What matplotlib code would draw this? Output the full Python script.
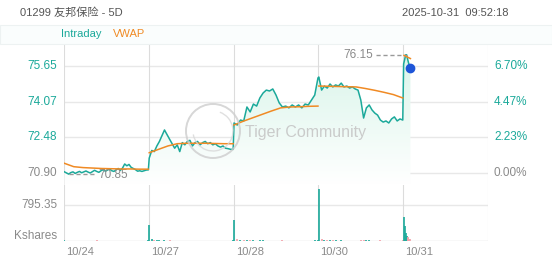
import numpy as np
import matplotlib
matplotlib.use('Agg')
import matplotlib.pyplot as plt
from matplotlib.patches import Rectangle, Ellipse, Arc
from matplotlib.colors import LinearSegmentedColormap

plt.rcParams['font.family'] = ['Liberation Sans', 'Noto Sans CJK SC', 'DejaVu Sans']

title = '01299 友邦保险 - 5D'
stamp = '2025-10-31  09:52:18'
days = ['10/24', '10/27', '10/28', '10/30', '10/31']
prev_close = 70.90
price_ticks = [75.65, 74.07, 72.48, 70.90]
vol_tick = 795.35

# intraday price per day
p1 = [70.95, 70.90, 70.85, 70.92, 70.95, 70.88, 70.93, 70.97, 70.91, 70.95,
      70.99, 70.94, 70.90, 70.96, 71.02, 70.97, 70.93, 71.00, 71.05, 70.98,
      71.03, 71.08, 71.00, 70.97, 71.04, 71.10, 71.02, 71.12, 71.30, 71.22,
      71.28, 71.15, 71.10, 71.05, 70.98, 71.00, 70.97, 71.00, 71.03, 71.04]
p2 = [71.56, 71.90, 71.85, 72.10, 72.30, 72.55, 72.81, 72.60, 72.40, 72.20,
      72.00, 72.15, 71.85, 72.25, 72.15, 72.30, 72.35, 72.10, 72.25, 72.30,
      72.15, 72.25, 72.30, 72.20, 72.25, 72.15, 72.20, 72.10, 72.05, 72.10,
      72.00, 71.98, 71.95, 71.95]
p3 = [73.12, 73.03, 73.25, 73.21, 73.83, 73.61, 73.96, 73.87, 74.23, 74.45,
      74.58, 74.54, 74.63, 74.36, 74.01, 73.83, 73.87, 73.79, 73.92, 73.83,
      73.92, 73.79, 73.96, 73.92, 74.14, 74.36, 75.12]
p4 = [75.16, 74.58, 74.76, 74.67, 74.85, 74.72, 74.81, 74.76, 74.89, 74.72,
      74.76, 74.67, 74.72, 74.63, 74.58, 74.14, 73.34, 73.79, 73.92, 73.70,
      73.56, 73.47, 73.25, 73.16, 73.21, 73.12, 73.30, 73.39, 73.21, 73.30,
      73.25]
p5 = [75.74, 75.92, 76.14, 76.15, 75.97, 75.80, 75.65, 75.58]
prices = [p1, p2, p3, p4, p5]

# vwap per day
v1 = [71.33, 71.18, 71.14, 71.12, 71.10, 71.09, 71.08, 71.08, 71.07, 71.07]
v2 = [71.80, 71.95, 72.10, 72.20, 72.22, 72.22, 72.22, 72.21, 72.20, 72.20]
v3 = [73.03, 73.20, 73.35, 73.50, 73.65, 73.79, 73.83, 73.84, 73.86, 73.87]
v4 = [74.76, 74.75, 74.74, 74.73, 74.72, 74.65, 74.57, 74.48, 74.38, 74.23]
v5 = [76.12, 76.05, 75.98]
vwaps = [v1, v2, v3, v4, v5]

# volume (kshares), first bar of each day is the opening auction
vol1 = [25, 8, 6, 5, 4, 6, 5, 7, 4, 5, 5, 6, 4, 5, 5, 30, 6, 5, 4, 5,
        4, 5, 6, 4, 5, 4, 5, 6, 4, 5, 5, 4, 6, 5, 4, 5, 4, 5, 6, 12]
vol2 = [353, 40, 20, 15, 12, 10, 14, 10, 12, 8, 10, 9, 8, 10, 8, 9, 7, 8,
        9, 7, 8, 6, 7, 8, 6, 7, 6, 8, 7, 6, 7, 6, 8, 15]
vol3 = [464, 45, 25, 18, 20, 15, 12, 10, 14, 12, 10, 9, 10, 8, 9, 12, 8, 9,
        7, 8, 9, 7, 8, 9, 10, 12, 20]
vol4 = [1149, 40, 25, 20, 15, 12, 14, 10, 12, 10, 9, 8, 10, 9, 8, 20, 25, 15,
        12, 10, 9, 10, 12, 9, 8, 10, 9, 8, 9, 10, 12]
vol5 = [530, 330, 180, 110, 80, 60, 45, 35]
vols = [vol1, vol2, vol3, vol4, vol5]

TEAL = '#1ba99a'
ORANGE = '#f08a24'
GRID = '#e8e8e8'
VLINE = '#dcdcdc'
GREY = '#8a8a8a'

W, H = 552, 265
fig = plt.figure(figsize=(W / 100, H / 100), dpi=100)


def fx(x):
    return x / W


def fy(y):
    return 1 - y / H


# header + legend strip
fig.text(fx(20), fy(13), title, fontsize=8, color='#555555', va='center', ha='left')
fig.text(fx(508), fy(13), stamp, fontsize=8, color='#555555', va='center', ha='right')
fig.patches.append(Rectangle((0, fy(44)), 1, fy(25) - fy(44), transform=fig.transFigure,
                             facecolor='#fafdfd', edgecolor='#edf2f2', lw=0.8, zorder=0))
fig.text(fx(61), fy(34), 'Intraday', fontsize=8, color=TEAL, va='center', ha='left')
fig.text(fx(113), fy(34), 'VWAP', fontsize=8, color=ORANGE, va='center', ha='left')

# price axes
ax = fig.add_axes([fx(64), fy(185), fx(488) - fx(64), fy(45) - fy(185)])
ylo = prev_close - (185 - 173) / 22.53
yhi = prev_close + (173 - 45) / 22.53
ax.set_xlim(0, 5)
ax.set_ylim(ylo, yhi)
ax.axis('off')

xs_all, ps_all = [], []
for d, p in enumerate(prices):
    if d < 4:
        xs = np.linspace(d + 0.005, d + 0.995, len(p))
    else:
        xs = np.linspace(d + 0.005, d + 0.085, len(p))
    xs_all.append(xs)
    ps_all.append(np.array(p))
X = np.concatenate(xs_all)
P = np.concatenate(ps_all)

# gradient fill under the line
grad = LinearSegmentedColormap.from_list('g', ['#ffffff', '#d6f4e8'])
poly = ax.fill_between(X, P, ylo, color='none', lw=0)
img = ax.imshow(np.linspace(0, 1, 100).reshape(-1, 1), cmap=grad, aspect='auto',
                extent=[0, 5, ylo, yhi], origin='lower', zorder=1)
img.set_clip_path(poly.get_paths()[0], transform=ax.transData)
ax.set_xlim(0, 5)
ax.set_ylim(ylo, yhi)

for t in price_ticks:
    ax.axhline(t, color=GRID, lw=1, zorder=0)
for d in range(6):
    ax.axvline(d, color=VLINE, lw=0.8, zorder=0)

ax.plot(X, P, color=TEAL, lw=1.1, zorder=3)
for d, v in enumerate(vwaps):
    if d < 4:
        xs = np.linspace(d + 0.005, d + 0.995, len(v))
    else:
        xs = np.linspace(d + 0.01, d + 0.085, len(v))
    ax.plot(xs, v, color=ORANGE, lw=1.1, zorder=4)

ax.plot(X[-1], P[-1], 'o', color='#1d55d8', ms=6, zorder=5)

# watermark
cx, cy = fx(213), fy(131)
fig.patches.append(Ellipse((cx, cy), 54 / W, 54 / H, transform=fig.transFigure,
                           fill=False, edgecolor='#cdcdcd', lw=1.4, zorder=5, alpha=0.8))
fig.patches.append(Arc((cx, cy), 40 / W, 40 / H, theta1=200, theta2=80, transform=fig.transFigure,
                       edgecolor='#d8d8d8', lw=1.0, zorder=5, alpha=0.8))
fig.text(fx(245), fy(132), 'Tiger Community', fontsize=11.5, color='#c6c6c6',
         va='center', ha='left', alpha=0.9)

# high / low markers
hi_i = int(np.argmax(P))
lo_i = int(np.argmin(P[:len(p1)]))
ax.plot([3.68, X[hi_i]], [P[hi_i], P[hi_i]], color='#999999', lw=1, ls=(0, (3, 2)), zorder=3)
ax.text(3.64, P[hi_i], f'{P[hi_i]:.2f}', fontsize=8.5, color=GREY, va='center', ha='right')
ax.plot([X[lo_i], 0.38], [P[lo_i], P[lo_i]], color='#999999', lw=1, ls=(0, (3, 2)), zorder=3)
ax.text(0.40, P[lo_i] - 0.02, f'{P[lo_i]:.2f}', fontsize=8.5, color=GREY, va='center', ha='left')

# price tick labels
for t in price_ticks:
    c = TEAL if t > prev_close else GREY
    yp = 173 - (t - prev_close) * 22.53
    fig.text(fx(57), fy(yp), f'{t:.2f}', fontsize=8.5, color=c, va='center', ha='right')
    pct = (t - prev_close) / prev_close * 100
    fig.text(fx(494), fy(yp), f'{pct:.2f}%', fontsize=8.5, color=c, va='center', ha='left')

# volume axes
vax = fig.add_axes([fx(64), fy(241), fx(488) - fx(64), fy(185) - fy(241)])
vax.set_xlim(0, 5)
vax.set_ylim(0, vol_tick * 56 / 36)
vax.axis('off')
vax.axhline(vol_tick, color=GRID, lw=1, zorder=0)
vax.axhline(0, color=VLINE, lw=1, zorder=0)
for d in range(6):
    vax.axvline(d, color=VLINE, lw=0.8, zorder=0)
for d, v in enumerate(vols):
    xs = xs_all[d]
    pd_ = ps_all[d]
    prev = np.concatenate([[prices[d - 1][-1] if d else prev_close], pd_[:-1]])
    cols = [TEAL if a >= b else '#f2a0a8' for a, b in zip(pd_, prev)]
    vax.vlines(xs, 0, v, colors=cols, lw=1.2)

fig.text(fx(57), fy(205), f'{vol_tick:.2f}', fontsize=8.5, color=GREY, va='center', ha='right')
fig.text(fx(57), fy(236), 'Kshares', fontsize=8.5, color=GREY, va='center', ha='right')
for d, lab in enumerate(days):
    fig.text(fx(66 + d * 84.8), fy(252), lab, fontsize=8, color=GREY, va='center', ha='left')

fig.savefig('out.png', dpi=100)
